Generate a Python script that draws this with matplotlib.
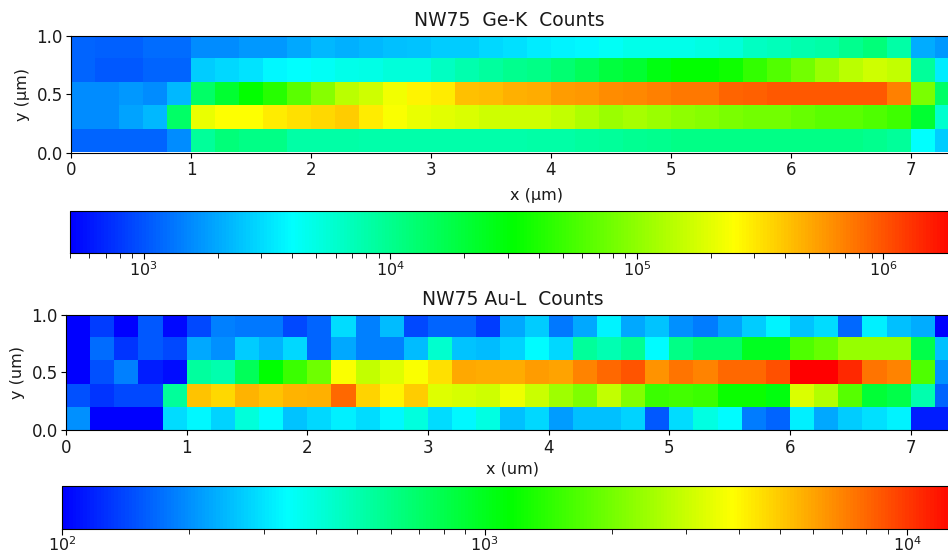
import numpy as np
import matplotlib
matplotlib.use('Agg')
import matplotlib.pyplot as plt
from matplotlib.colors import LinearSegmentedColormap, LogNorm

# log10(counts) per pixel, top scan line first, 0.2 um steps in x and y
ge_row0 = [3.06,3.04,3.04,3.08,3.08,3.20,3.20,3.24,3.24,3.29,3.35,3.33,3.35,3.38,3.40,3.42,3.42,3.47,3.49,3.53,3.56,3.58,3.64,3.67,3.67,3.67,3.71,3.74,3.82,3.85,3.89,3.92,4.00,4.07,3.92,3.31,3.24]
ge_row1 = [3.06,3.02,3.02,3.06,3.06,3.42,3.47,3.51,3.58,3.60,3.64,3.67,3.69,3.73,3.74,3.82,3.89,3.94,4.00,4.03,4.10,4.18,4.28,4.32,4.43,4.50,4.50,4.55,4.68,4.79,4.90,5.04,5.15,5.22,5.18,3.96,3.53]
ge_row2 = [3.20,3.20,3.24,3.20,3.35,4.14,4.32,4.50,4.64,4.82,4.97,5.15,5.22,5.35,5.44,5.47,5.62,5.63,5.67,5.69,5.74,5.76,5.80,5.81,5.85,5.87,5.87,5.94,5.96,5.98,5.98,5.99,5.99,5.99,5.85,4.93,4.14]
ge_row3 = [3.20,3.20,3.28,3.35,4.14,5.33,5.40,5.40,5.47,5.51,5.54,5.58,5.47,5.38,5.33,5.29,5.27,5.22,5.22,5.22,5.18,5.11,5.04,5.08,5.04,5.00,4.97,4.93,4.90,4.90,4.86,4.82,4.81,4.77,4.72,4.32,3.78]
ge_row4 = [3.06,3.06,3.06,3.06,3.20,3.96,4.07,4.03,4.03,3.92,3.92,3.92,3.90,3.90,3.90,3.90,3.90,3.90,3.90,3.92,3.92,3.94,3.96,3.98,4.00,4.03,4.03,4.03,4.03,4.03,4.03,4.03,4.03,4.00,3.96,3.60,3.42]

au_row0 = [2.00,2.13,2.00,2.19,2.02,2.15,2.27,2.25,2.25,2.15,2.21,2.46,2.27,2.39,2.15,2.21,2.21,2.13,2.35,2.43,2.25,2.35,2.51,2.35,2.41,2.30,2.26,2.34,2.43,2.51,2.41,2.46,2.22,2.50,2.40,2.36,2.00]
au_row1 = [2.00,2.23,2.11,2.19,2.15,2.35,2.30,2.43,2.38,2.45,2.21,2.35,2.27,2.27,2.39,2.63,2.41,2.39,2.44,2.53,2.45,2.74,2.69,2.76,2.53,2.78,2.84,2.84,2.99,2.99,3.22,3.27,3.37,3.37,3.37,2.91,2.40]
au_row2 = [2.00,2.17,2.27,2.06,2.03,2.73,2.70,2.87,3.06,3.18,3.29,3.58,3.46,3.52,3.58,3.65,3.77,3.76,3.76,3.79,3.78,3.84,3.90,3.94,3.81,3.88,3.84,3.90,3.90,3.95,4.12,4.12,4.03,3.88,3.84,3.22,2.31]
au_row3 = [2.17,2.11,2.15,2.15,2.74,3.71,3.67,3.74,3.71,3.74,3.75,3.90,3.68,3.61,3.69,3.52,3.50,3.49,3.55,3.48,3.39,3.32,3.46,3.33,3.18,3.20,3.18,3.08,3.08,3.03,3.51,3.43,3.24,2.95,2.91,2.70,2.21]
au_row4 = [2.30,2.00,2.00,2.00,2.46,2.52,2.44,2.61,2.53,2.41,2.45,2.50,2.46,2.52,2.60,2.46,2.52,2.59,2.40,2.45,2.33,2.40,2.40,2.44,2.19,2.46,2.59,2.53,2.26,2.21,2.50,2.35,2.43,2.47,2.51,2.06,2.06]

ge_min, ge_max = 500, 2e6
au_min, au_max = 100, 1.32e4
x_end = 7.4
x_ticks = [0, 1, 2, 3, 4, 5, 6, 7]
y_ticks = [0.0, 0.5, 1.0]

W, H = 948, 553
plt.rcParams['font.family'] = 'DejaVu Sans'
plt.rcParams['font.size'] = 11.5
plt.rcParams['text.color'] = '#1a1a1a'
plt.rcParams['xtick.labelcolor'] = '#1a1a1a'
plt.rcParams['ytick.labelcolor'] = '#1a1a1a'
plt.rcParams['axes.labelcolor'] = '#1a1a1a'

cmap = LinearSegmentedColormap.from_list('bcgyr', ['#0000ff', '#00ffff', '#00ff00', '#ffff00', '#ff0000'])


def _axes(fig, left, top, right, bottom):
    # pixel box to figure fraction, the right side runs off the canvas
    return fig.add_axes([left / W, 1 - bottom / H, (right - left) / W, (bottom - top) / H])


def _map(fig, rows, vmin, vmax, box, cbox, title, title_x, xlabel, xlabel_x, xpad, ylabel):
    ax = _axes(fig, *box)
    counts = 10 ** np.array(rows)
    im = ax.imshow(counts, cmap=cmap, norm=LogNorm(vmin=vmin, vmax=vmax),
                   extent=[0, x_end, 0, 1], aspect='auto', interpolation='nearest')
    ax.set_xticks(x_ticks)
    ax.set_yticks(y_ticks)
    ax.set_yticklabels(['0.0', '0.5', '1.0'])
    ax.tick_params(labelsize=12, pad=2.5)
    ax.set_xlabel(xlabel, x=xlabel_x, labelpad=xpad, fontsize=11.5)
    ax.set_ylabel(ylabel, labelpad=4.5, fontsize=11.5)
    ax.set_title(title, x=title_x, fontsize=13.5, pad=7)

    cax = _axes(fig, *cbox)
    cb = fig.colorbar(im, cax=cax, orientation='horizontal')
    cb.ax.tick_params(which='minor', length=3.5)
    cb.ax.tick_params(which='major', length=4, pad=1, labelsize=11.5)
    return ax, cb


fig = plt.figure(figsize=(W / 100, H / 100), dpi=100)

_map(fig, [ge_row0, ge_row1, ge_row2, ge_row3, ge_row4], ge_min, ge_max,
     (71, 36, 958.6, 152.5), (69.5, 210.7, 957.5, 253.3),
     'NW75  Ge-K  Counts', 0.4935, 'x (µm)', 0.525, 6.5, 'y (µm)')
_map(fig, [au_row0, au_row1, au_row2, au_row3, au_row4], au_min, au_max,
     (66, 314.5, 959, 430.3), (62, 486.3, 958, 528.7),
     'NW75 Au-L  Counts', 0.5, 'x (um)', 0.5, 3.5, 'y (um)')

fig.savefig('out.png', dpi=100)
